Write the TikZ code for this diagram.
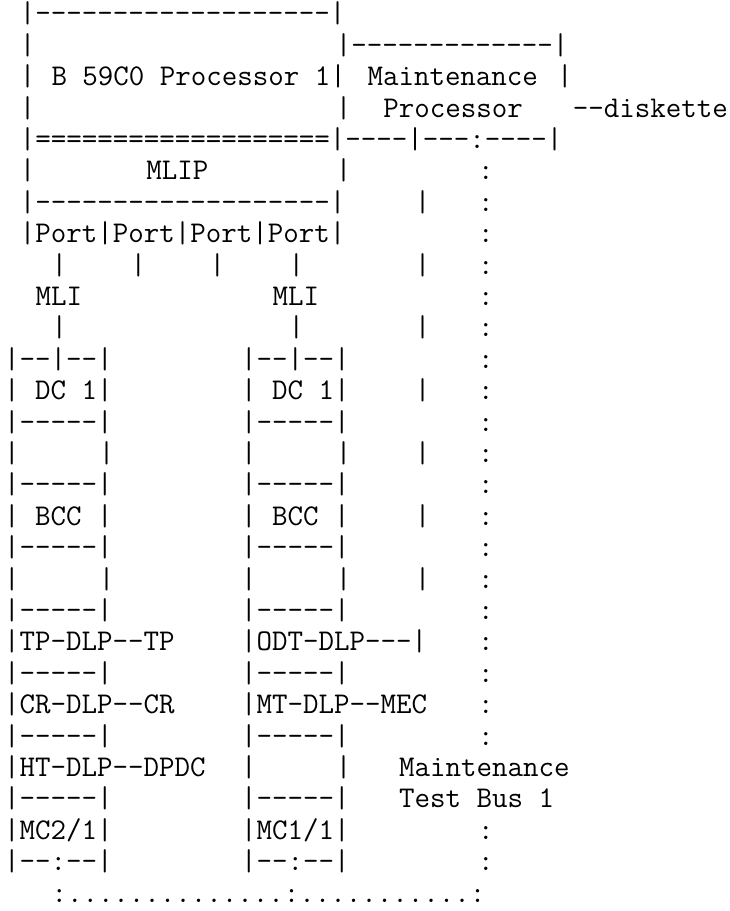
\documentclass[tikz,border=0pt]{standalone}
\begin{document}
\begin{tikzpicture}
\tikzset{asc/.style={anchor=base west, inner sep=0pt, outer sep=0pt,
  font=\ttfamily\fontsize{22.57pt}{23.6pt}\selectfont, text=black}}
\newcommand\seg[4]{\node[asc] (#1) at (#2,#3) {#4};}
\useasboundingbox (0,0) rectangle (547.5pt,-683.25pt);
\begin{scope}[shift={(3.08pt,-17.2pt)}, x=11.85pt, y=-23.55pt]
% row 0
\seg{r0a}{1}{0}{|-------------------|}
% row 1
\seg{r1a}{1}{1}{|}
\seg{r1b}{21}{1}{|-------------|}
% row 2
\seg{r2a}{1}{2}{|}
\seg{r2b}{3}{2}{B 59C0 Processor 1|}
\seg{r2c}{23}{2}{Maintenance}
\seg{r2d}{35}{2}{|}
% row 3
\seg{r3a}{1}{3}{|}
\seg{r3b}{21}{3}{|}
\seg{r3c}{24}{3}{Processor}
\seg{r3d}{36}{3}{--diskette}
% row 4
\seg{r4a}{1}{4}{|===================|----|---:----|}
% row 5
\seg{r5a}{1}{5}{|}
\seg{r5b}{9}{5}{MLIP}
\seg{r5c}{21}{5}{|}
\seg{r5d}{30}{5}{:}
% row 6
\seg{r6a}{1}{6}{|-------------------|}
\seg{r6b}{26}{6}{|}
\seg{r6c}{30}{6}{:}
% row 7
\seg{r7a}{1}{7}{|Port|Port|Port|Port|}
\seg{r7b}{30}{7}{:}
% row 8
\seg{r8a}{3}{8}{|}
\seg{r8b}{8}{8}{|}
\seg{r8c}{13}{8}{|}
\seg{r8d}{18}{8}{|}
\seg{r8e}{26}{8}{|}
\seg{r8f}{30}{8}{:}
% row 9
\seg{r9a}{2}{9}{MLI}
\seg{r9b}{17}{9}{MLI}
\seg{r9c}{30}{9}{:}
% row 10
\seg{r10a}{3}{10}{|}
\seg{r10b}{18}{10}{|}
\seg{r10c}{26}{10}{|}
\seg{r10d}{30}{10}{:}
% row 11
\seg{r11a}{0}{11}{|--|--|}
\seg{r11b}{15}{11}{|--|--|}
\seg{r11c}{30}{11}{:}
% row 12
\seg{r12a}{0}{12}{| DC 1|}
\seg{r12b}{15}{12}{| DC 1|}
\seg{r12c}{26}{12}{|}
\seg{r12d}{30}{12}{:}
% row 13
\seg{r13a}{0}{13}{|-----|}
\seg{r13b}{15}{13}{|-----|}
\seg{r13c}{30}{13}{:}
% row 14
\seg{r14a}{0}{14}{|}
\seg{r14b}{6}{14}{|}
\seg{r14c}{15}{14}{|}
\seg{r14d}{21}{14}{|}
\seg{r14e}{26}{14}{|}
\seg{r14f}{30}{14}{:}
% row 15
\seg{r15a}{0}{15}{|-----|}
\seg{r15b}{15}{15}{|-----|}
\seg{r15c}{30}{15}{:}
% row 16
\seg{r16a}{0}{16}{| BCC |}
\seg{r16b}{15}{16}{| BCC |}
\seg{r16c}{26}{16}{|}
\seg{r16d}{30}{16}{:}
% row 17
\seg{r17a}{0}{17}{|-----|}
\seg{r17b}{15}{17}{|-----|}
\seg{r17c}{30}{17}{:}
% row 18
\seg{r18a}{0}{18}{|}
\seg{r18b}{6}{18}{|}
\seg{r18c}{15}{18}{|}
\seg{r18d}{21}{18}{|}
\seg{r18e}{26}{18}{|}
\seg{r18f}{30}{18}{:}
% row 19
\seg{r19a}{0}{19}{|-----|}
\seg{r19b}{15}{19}{|-----|}
\seg{r19c}{30}{19}{:}
% row 20
\seg{r20a}{0}{20}{|TP-DLP--TP}
\seg{r20b}{15}{20}{|ODT-DLP---|}
\seg{r20c}{30}{20}{:}
% row 21
\seg{r21a}{0}{21}{|-----|}
\seg{r21b}{15}{21}{|-----|}
\seg{r21c}{30}{21}{:}
% row 22
\seg{r22a}{0}{22}{|CR-DLP--CR}
\seg{r22b}{15}{22}{|MT-DLP--MEC}
\seg{r22c}{30}{22}{:}
% row 23
\seg{r23a}{0}{23}{|-----|}
\seg{r23b}{15}{23}{|-----|}
\seg{r23c}{30}{23}{:}
% row 24
\seg{r24a}{0}{24}{|HT-DLP--DPDC}
\seg{r24b}{15}{24}{|}
\seg{r24c}{21}{24}{|}
\seg{r24d}{25}{24}{Maintenance}
% row 25
\seg{r25a}{0}{25}{|-----|}
\seg{r25b}{15}{25}{|-----|}
\seg{r25c}{25}{25}{Test Bus 1}
% row 26
\seg{r26a}{0}{26}{|MC2/1|}
\seg{r26b}{15}{26}{|MC1/1|}
\seg{r26c}{30}{26}{:}
% row 27
\seg{r27a}{0}{27}{|--:--|}
\seg{r27b}{15}{27}{|--:--|}
\seg{r27c}{30}{27}{:}
% row 28
\seg{r28a}{3}{28}{:..............:...........:}
\end{scope}
\end{tikzpicture}
\end{document}
